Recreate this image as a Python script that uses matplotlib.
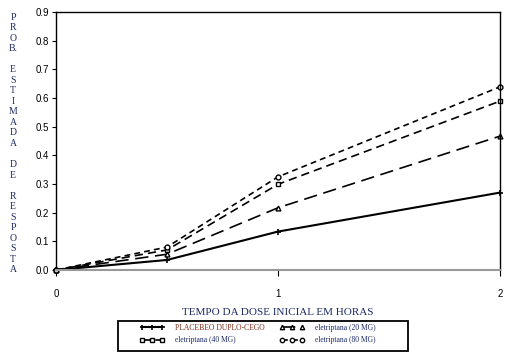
import matplotlib.pyplot as plt
from matplotlib.patches import Rectangle

# dados
horas = [0, 0.5, 1, 2]
placebo = [0.0, 0.035, 0.134, 0.27]
mg20 = [0.0, 0.055, 0.217, 0.467]
mg40 = [0.0, 0.070, 0.299, 0.589]
mg80 = [0.0, 0.080, 0.325, 0.639]
yticks = [0.0, 0.1, 0.2, 0.3, 0.4, 0.5, 0.6, 0.7, 0.8, 0.9]
xticks = [0, 1, 2]

azul = '#1c2a66'
vermelho = '#7a2a18'
serif = ['Liberation Serif', 'DejaVu Serif']
sans = ['Liberation Sans', 'DejaVu Sans']

W, H = 512, 359
fig = plt.figure(figsize=(W / 100, H / 100), dpi=100)
ax = fig.add_axes([56 / W, 1 - 270 / H, 444 / W, 258 / H])

ax.plot(horas, placebo, color='black', lw=1.5, ls='-', marker='+', ms=4,
        mew=1.2, clip_on=False, label='PLACEBEO DUPLO-CEGO')
ax.plot(horas, mg40, color='black', lw=1.2, ls=(0, (5, 3)), marker='s', ms=3.5,
        mfc='white', mew=1, clip_on=False, label='eletriptana (40 MG)')
ax.plot(horas, mg20, color='black', lw=1.2, ls=(0, (8, 4)), marker='^', ms=3.5,
        mfc='white', mew=1, clip_on=False, label='eletriptana (20 MG)')
ax.plot(horas, mg80, color='black', lw=1.2, ls=(0, (3.5, 2.5)), marker='o', ms=3.5,
        mfc='white', mew=1, clip_on=False, label='eletriptana (80 MG)')

ax.set_xlim(0, 2)
ax.set_ylim(0, 0.9)
ax.set_xticks(xticks)
ax.set_yticks(yticks)
ax.set_yticklabels(['%.1f' % v for v in yticks], family=sans, fontsize=7)
ax.set_xticklabels([str(v) for v in xticks], family=sans, fontsize=7)
ax.tick_params(axis='x', length=4, width=0.8, pad=10)
ax.tick_params(axis='y', length=3, width=0.8, pad=2)
for s in ['left', 'top', 'right']:
    ax.spines[s].set_linewidth(1.0)
ax.spines['bottom'].set_color('#999999')
ax.spines['bottom'].set_linewidth(1.5)

ax.set_xlabel('TEMPO DA DOSE INICIAL EM HORAS', family=serif, fontsize=8,
              color=azul, labelpad=6)

# rotulo vertical, uma letra por linha
palavras = ['PROB.', 'ESTIMADA', 'DE', 'RESPOSTA']
linhas = []
for i, p in enumerate(palavras):
    if i > 0:
        linhas.append('')
    if p == 'PROB.':
        linhas += ['P', 'R', 'O', 'B.']
    else:
        linhas += list(p)
for i, c in enumerate(linhas):
    y = 17 + i * 253 / (len(linhas) - 1)
    fig.text(13 / W, 1 - y / H, c, family=serif, fontsize=7,
             color=azul, ha='center', va='center')

# legenda: caixa desenhada a parte, conteudo sem moldura
fig.patches.append(Rectangle((118 / W, 1 - 351 / H), 290 / W, 30 / H,
                             transform=fig.transFigure, fill=False,
                             edgecolor='black', lw=1.3))
leg = ax.legend(loc='center left', bbox_to_anchor=(136 / W, 1 - 334 / H),
                bbox_transform=fig.transFigure,
                ncol=2, numpoints=3, handlelength=3.2,
                prop={'family': serif, 'size': 5.5},
                frameon=False, borderpad=0, columnspacing=2.0,
                labelspacing=0.6, handletextpad=1.4, markerscale=0.9)
for t in leg.get_texts():
    t.set_color(vermelho if t.get_text().startswith('PLACEBEO') else azul)

fig.savefig('out.png', dpi=100)
